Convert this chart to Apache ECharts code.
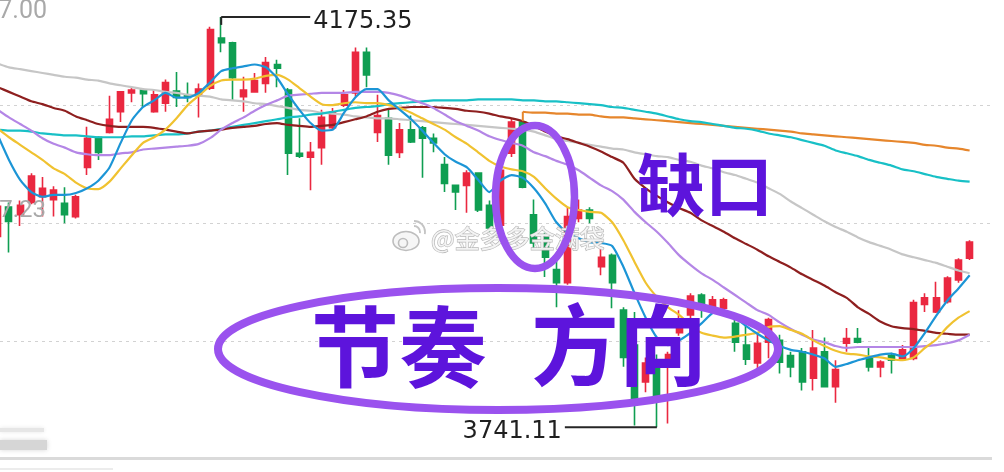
<!DOCTYPE html>
<html><head><meta charset="utf-8">
<script src="https://cdn.jsdelivr.net/npm/echarts@6/dist/echarts.min.js"></script>
<style>html,body{margin:0;padding:0;background:#fff;}#c{width:1004px;height:472px;}</style>
</head><body><div id="c"></div>
<script>
// [open, close, low, high]
const candles = [
[3943,3975,3939,3982],[3974,3959,3926,3979],[3966,3976,3954,3981],[3979,4007,3977,4010],
[3985,3994,3964,4006],[3982,3992,3964,3996],[3978,3966,3957,3995],[3964,3985,3962,3987],
[4016,4047,4008,4059],[4048,4032,4024,4049],[4053,4067,4052,4092],[4075,4096,4064,4097],
[4095,4098,4085,4100],[4098,4094,4080,4100],[4075,4093,4074,4098],[4084,4106,4075,4109],
[4097,4090,4080,4117],[4093,4090,4085,4106],[4092,4099,4069,4105],[4100,4162,4098,4165],
[4153,4148,4138,4175.35],[4148,4111,4087,4149],[4091,4098,4075,4112],[4096,4108,4095,4116],
[4105,4127,4095,4133],[4125,4121,4101,4130],[4098,4031,4008,4100],[4031,4028,4026,4068],
[4027,4032,3992,4043],[4037,4069,4019,4077],[4058,4074,4056,4079],[4082,4093,4080,4098],
[4095,4138,4091,4143],[4138,4114,4101,4143],[4053,4071,4043,4093],[4068,4029,4019,4077],
[4032,4056,4026,4063],[4056,4043,4042,4071],[4058,4047,4005,4060],[4047,4042,4032,4052],
[4019,3999,3990,4027],[3997,3990,3971,3998],[3997,4010,3968,4013],[4010,3971,3969,4011],
[3976,3952,3948,3981],[3955,4013,3952,4016],[4031,4064,4027,4068],[4064,3995,3994,4065],
[3966,3936,3929,3982],[3942,3921,3900,3947],[3908,3894,3868,3921],[3894,3964,3892,3973],
[3962,3971,3958,3982],[3971,3962,3957,3974],[3911,3921,3902,3932],[3923,3894,3867,3925],
[3865,3815,3805,3868],[3828,3770,3743,3863],[3789,3809,3778,3815],[3812,3775,3741.11,3818],
[3810,3818,3745,3821],[3841,3855,3838,3865],[3860,3880,3841,3883],[3881,3868,3857,3883],
[3863,3876,3861,3880],[3867,3876,3865,3878],[3851,3831,3821,3857],[3828,3813,3807,3849],
[3809,3830,3800,3841],[3831,3855,3814,3857],[3833,3810,3798,3839],[3817,3805,3794,3821],
[3821,3789,3780,3825],[3793,3825,3780,3844],[3821,3784,3783,3836],[3784,3802,3767,3812],
[3830,3835,3821,3846],[3835,3831,3830,3846],[3814,3805,3800,3825],[3805,3810,3794,3812],
[3817,3812,3798,3820],[3814,3823,3812,3828],[3814,3873,3812,3876],[3871,3878,3863,3883],
[3863,3878,3862,3895],[3874,3899,3872,3901],[3897,3918,3894,3920],[3920,3937,3918,3939]
];
const categories = candles.map((_, i) => 'K' + (i + 1));

const ma5 = [4050,4024,4003,3990,3985,3987,3987,3989,3994,4002,4016,4042,4066,4080,4087,4095,4090,4090,4095,4106,
4118,4121,4123,4125,4122,4111,4093,4077,4063,4055,4056,4074,4090,4099,4099,4087,4077,4067,4055,4042,
4030,4022,4016,4003,3990,4002,4008,4005,3994,3978,3958,3947,3941,3937,3936,3933,3911,3883,3857,3836,
3828,3833,3841,3851,3862,3863,3857,3848,3840,3833,3827,3823,3821,3818,3814,3805,3808,3812,3815,3818,
3819,3816,3825,3841,3859,3875,3888,3902];
const ma10 = [4057,4048,4040,4032,4024,4015,4009,4000,3994,3993,4001,4015,4029,4042,4048,4056,4068,4082,4092,4102,
4108,4109,4109,4110,4113,4114,4109,4100,4091,4083,4082,4084,4085,4084,4084,4082,4079,4074,4068,4062,
4056,4048,4041,4032,4023,4017,4014,4012,4006,3994,3983,3974,3971,3969,3968,3958,3939,3916,3894,3879,
3868,3860,3849,3841,3838,3836,3837,3839,3841,3847,3848,3844,3840,3833,3827,3822,3819,3818,3816,3815,
3813,3812,3815,3825,3834,3847,3857,3864];
const ma20 = [4077,4069,4062,4055,4047,4041,4037,4032,4030,4029,4029,4031,4032,4035,4036,4037,4038,4039,4041,4047,
4056,4063,4069,4076,4082,4087,4092,4093,4094,4095,4095,4095,4096,4096,4096,4095,4092,4088,4084,4079,
4072,4065,4060,4055,4049,4045,4042,4039,4032,4028,4023,4019,4013,4005,3997,3991,3982,3969,3958,3948,
3936,3923,3913,3904,3897,3889,3881,3873,3865,3860,3852,3845,3839,3834,3831,3827,3825,3826,3826,3826,
3826,3826,3826,3827,3828,3830,3833,3839];
const ma30 = [4101,4096,4091,4086,4083,4079,4076,4070,4066,4062,4060,4059,4059,4059,4058,4056,4054,4052,4054,4055,
4056,4058,4059,4060,4062,4063,4061,4060,4059,4060,4061,4064,4067,4070,4075,4078,4079,4080,4080,4080,
4079,4078,4076,4075,4073,4070,4068,4065,4060,4054,4049,4046,4042,4038,4033,4027,4021,4004,3994,3986,
3979,3973,3968,3960,3954,3948,3941,3935,3929,3922,3916,3910,3903,3897,3891,3884,3878,3868,3861,3853,
3848,3846,3845,3843,3841,3840,3839,3839];
const ma60 = [4056,4055,4055,4054,4052,4051,4050,4050,4049,4048,4048,4048,4049,4049,4050,4051,4051,4052,4054,4055,
4057,4059,4061,4063,4065,4067,4069,4070,4072,4073,4075,4077,4079,4080,4081,4083,4084,4085,4086,4087,
4087,4087,4087,4088,4088,4088,4088,4087,4087,4086,4086,4085,4084,4083,4082,4080,4079,4077,4075,4073,
4070,4067,4065,4064,4062,4060,4058,4057,4055,4052,4050,4048,4045,4042,4039,4034,4031,4028,4024,4021,
4018,4014,4012,4009,4006,4004,4002,4001];
const ma120 = [4126,4122,4120,4118,4116,4114,4112,4111,4109,4108,4105,4103,4101,4099,4098,4096,4095,4093,4092,4091,
4088,4087,4086,4084,4083,4081,4079,4077,4076,4074,4073,4072,4070,4069,4068,4068,4067,4066,4065,4064,
4063,4062,4061,4060,4059,4058,4057,4056,4054,4050,4046,4044,4042,4040,4038,4036,4035,4032,4030,4028,
4027,4024,4022,4018,4015,4011,4008,4004,4000,3994,3988,3980,3973,3966,3959,3953,3948,3942,3937,3933,
3929,3924,3921,3918,3915,3911,3907,3904];
const gapStart = 47;
const gapValues = [4075,4074,4074,4073,4073,4072,4072,4070,4069,4069,4068,4067,4066,4065,4064,4063,4062,4061,4060,4059,
4058,4057,4056,4055,4054,4052,4051,4050,4049,4048,4047,4046,4045,4044,4043,4042,4040,4039,4037,4036,4034];

const yMin = 3707.46, yMax = 4207.00, yStep = 124.885;

const RED = '#ea2840', GREEN = '#0f9e52';
const gapLine = categories.map((_, i) => i >= gapStart ? gapValues[i - gapStart] : '-');

function maSeries(data, color, z) {
  return {type:'line', xAxisIndex:0, yAxisIndex:0, data:data, symbol:'none', showSymbol:false,
    smooth:0.2, z:z, lineStyle:{color:color, width:2.2}, silent:true};
}

const option = {
  animation:false,
  backgroundColor:'#ffffff',
  grid:[
    {left:-7.785, top:-13, width:983, height:472, containLabel:false, outerBoundsMode:'none'},
    {left:0, top:-13, width:992, height:472, containLabel:false, outerBoundsMode:'none'}
  ],
  xAxis:[
    {type:'category', gridIndex:0, data:categories, boundaryGap:true, show:false},
    {type:'value', gridIndex:1, min:0, max:1, show:false}
  ],
  yAxis:[
    {type:'value', gridIndex:0, min:yMin, max:yMax, show:false},
    {type:'value', gridIndex:1, min:yMin, max:yMax, interval:yStep,
      axisLine:{show:false}, axisTick:{show:false}, axisLabel:{show:false},
      splitLine:{show:true, lineStyle:{color:'#d2d2d2', width:1, type:[3,4]}}}
  ],
  series:[
    {type:'candlestick', xAxisIndex:0, yAxisIndex:0, data:candles, barWidth:6.5, z:2,
      itemStyle:{color:RED, color0:GREEN, borderColor:RED, borderColor0:GREEN, borderWidth:1.6}},
    maSeries(ma120, '#c6c6c6', 3),
    maSeries(gapLine, '#e6862c', 3),
    maSeries(ma60, '#18c0c6', 3),
    maSeries(ma30, '#8e1f1f', 4),
    maSeries(ma20, '#b486e6', 4),
    maSeries(ma10, '#f0c230', 5),
    maSeries(ma5, '#1c95d6', 6)
  ]
};

const chart = echarts.init(document.getElementById('c'));
chart.setOption(option);

const P = (i, v) => chart.convertToPixel({xAxisIndex:0, yAxisIndex:0}, [i, v]);
const PY = v => chart.convertToPixel({yAxisIndex:1}, v);

let hiIdx = 0, loIdx = 0;
candles.forEach((c, i) => { if (c[3] > candles[hiIdx][3]) hiIdx = i; if (c[2] < candles[loIdx][2]) loIdx = i; });
const hp = P(hiIdx, candles[hiIdx][3]);
const lp = P(loIdx, candles[loIdx][2]);
const gs0 = P(gapStart, candles[gapStart][3]);
const gs1 = P(gapStart, gapValues[0]);
const yTop = PY(yMax), yMid = PY(yMin + 2 * yStep), yBot = PY(yMin);

function txt(x, y, s, font, fill, align, extra) {
  return {type:'text', x:x, y:y, z:60,
    style:Object.assign({text:s, font:font, fill:fill, align:align, textAlign:align,
      verticalAlign:'middle', textVerticalAlign:'middle'}, extra || {})};
}

const CJK = '"Noto Sans CJK SC"';
const NUM = '24px "DejaVu Sans"';
const graphics = [
  // axis labels
  txt(47, yTop + 25, yMax.toFixed(2), '25px Roboto', '#a9a9a9', 'right'),
  txt(46, yMid - 12, (yMin + 2 * yStep).toFixed(2), '24px Roboto', '#a9a9a9', 'right'),
  // blurred bottom label
  {type:'rect', z:20, shape:{x:0, y:428, width:44, height:4}, style:{fill:'#e6e6e6', shadowBlur:4, shadowColor:'#e6e6e6'}},
  {type:'rect', z:20, shape:{x:0, y:440, width:47, height:10}, style:{fill:'#d6d6d6', shadowBlur:5, shadowColor:'#d6d6d6'}},
  // bottom separator
  {type:'line', z:20, shape:{x1:0, y1:yBot - 0.5, x2:992, y2:yBot - 0.5}, style:{stroke:'#dadada', lineWidth:3}},
  {type:'line', z:20, shape:{x1:0, y1:469, x2:113, y2:469}, style:{stroke:'#ececec', lineWidth:2}},
  // gap stub
  {type:'line', z:40, shape:{x1:gs0[0], y1:gs0[1], x2:gs1[0], y2:gs1[1]}, style:{stroke:'#e6862c', lineWidth:2}},
  // high / low markers
  {type:'line', z:50, shape:{x1:hp[0], y1:hp[1], x2:hp[0] + 89, y2:hp[1]}, style:{stroke:'#262626', lineWidth:2}},
  {type:'line', z:50, shape:{x1:hp[0], y1:hp[1], x2:hp[0], y2:hp[1] + 8}, style:{stroke:'#262626', lineWidth:2}},
  txt(hp[0] + 92, hp[1] + 5, candles[hiIdx][3].toFixed(2), NUM, '#1f1f1f', 'left'),
  {type:'line', z:50, shape:{x1:lp[0] - 92, y1:lp[1], x2:lp[0], y2:lp[1]}, style:{stroke:'#262626', lineWidth:2}},
  txt(lp[0] - 95, lp[1] + 5, candles[loIdx][2].toFixed(2), NUM, '#1f1f1f', 'right'),
  // watermark
  {type:'ellipse', z:55, shape:{cx:406, cy:241, rx:13, ry:9.5}, style:{fill:'rgba(245,245,245,0.9)', stroke:'#bdbdbd', lineWidth:1.6}},
  {type:'circle', z:56, shape:{cx:403, cy:243, r:4.5}, style:{fill:'none', stroke:'#bdbdbd', lineWidth:1.6}},
  {type:'arc', z:56, shape:{cx:414, cy:232, r:6, startAngle:-Math.PI / 2, endAngle:0.2}, style:{stroke:'#c4c4c4', lineWidth:1.8, fill:'none'}},
  {type:'arc', z:56, shape:{cx:414, cy:232, r:11, startAngle:-Math.PI / 2, endAngle:0.2}, style:{stroke:'#c4c4c4', lineWidth:1.8, fill:'none'}},
  txt(431, 238, '@金多多金满袋', '25px ' + CJK, 'rgba(246,246,246,0.92)', 'left', {stroke:'#b9b9b9', lineWidth:1.3}),
  // ellipses
  {type:'ellipse', z:70, shape:{cx:535, cy:197, rx:39.5, ry:71.5}, style:{fill:'none', stroke:'#9a52ee', lineWidth:7.5}},
  {type:'ellipse', z:70, shape:{cx:498, cy:349, rx:280, ry:61}, style:{fill:'none', stroke:'#9a52ee', lineWidth:8}},
  // big texts
  txt(311, 347, '节奏', 'bold 88px ' + CJK, '#5d14dc', 'left'),
  txt(531, 345, '方向', 'bold 88px ' + CJK, '#5d14dc', 'left'),
  txt(637, 185, '缺口', 'bold 68px ' + CJK, '#5d14dc', 'left')
];
chart.setOption({graphic:{elements:graphics}});
</script>
</body></html>
